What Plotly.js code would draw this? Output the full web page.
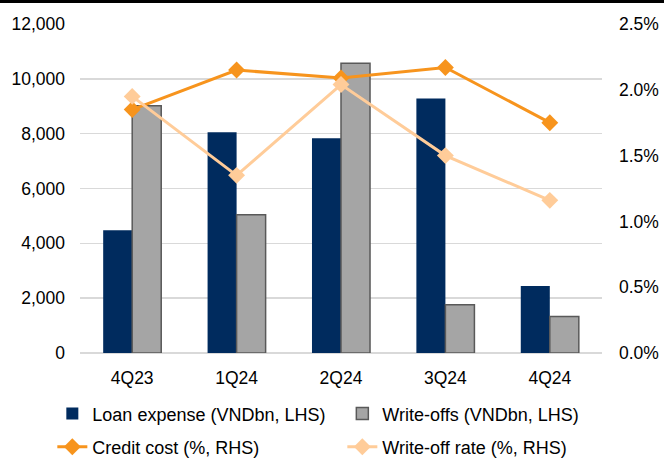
<!DOCTYPE html>
<html>
<head>
<meta charset="utf-8">
<script src="https://cdn.plot.ly/plotly-3.0.1.min.js"></script>
<style>
  html, body { margin: 0; padding: 0; background: #fff; }
  #chart { width: 664px; height: 465px; }
</style>
</head>
<body>
<div id="chart"></div>
<script>
const categories = ['4Q23', '1Q24', '2Q24', '3Q24', '4Q24'];
const loanExpense = [4480, 8050, 7830, 9280, 2440];
const writeOffs = [9020, 5040, 10570, 1760, 1330];
const creditCost = [0.0185, 0.0215, 0.0209, 0.0217, 0.0175];
const writeOffRate = [0.0195, 0.0135, 0.0204, 0.0150, 0.0116];

const FONT = 'Liberation Sans, Arial, sans-serif';
const FS = 17.5;
const LFS = 18;

const traces = [
  {
    type: 'bar', name: 'Loan expense (VNDbn, LHS)', x: categories, y: loanExpense,
    marker: { color: '#002B5E', line: { color: '#002B5E', width: 0 } },
    legend: 'legend', hoverinfo: 'skip'
  },
  {
    type: 'bar', name: 'Write-offs (VNDbn, LHS)', x: categories, y: writeOffs,
    marker: { color: '#A5A5A5', line: { color: '#595959', width: 1.5 } },
    legend: 'legend', hoverinfo: 'skip'
  },
  {
    type: 'scatter', mode: 'lines+markers', name: 'Credit cost (%, RHS)', x: categories, y: creditCost,
    yaxis: 'y2', line: { color: '#F7941D', width: 3 },
    marker: { symbol: 'diamond', size: 13, color: '#F7941D' },
    legend: 'legend2', hoverinfo: 'skip'
  },
  {
    type: 'scatter', mode: 'lines+markers', name: 'Write-off rate (%, RHS)', x: categories, y: writeOffRate,
    yaxis: 'y2', line: { color: '#FFCC99', width: 3 },
    marker: { symbol: 'diamond', size: 13, color: '#FFCC99' },
    legend: 'legend2', hoverinfo: 'skip'
  }
];

const layout = {
  width: 664, height: 465,
  margin: { l: 80, r: 62, t: 24, b: 112, pad: 0, autoexpand: false },
  paper_bgcolor: '#ffffff', plot_bgcolor: '#ffffff',
  font: { family: FONT, size: FS, color: '#000000' },
  barmode: 'group', bargap: 0.444, bargroupgap: 0,
  showlegend: true,
  xaxis: {
    type: 'category', showgrid: false, zeroline: false,
    showline: false, ticks: '', ticklabelstandoff: 12, automargin: false,
    tickfont: { family: FONT, size: FS, color: '#000' }
  },
  yaxis: {
    range: [0, 12000], dtick: 2000, tickformat: ',d', automargin: false,
    showgrid: true, gridcolor: '#D9D9D9', gridwidth: 1.5,
    zeroline: true, zerolinecolor: '#D9D9D9', zerolinewidth: 1.5,
    showline: false, ticks: '', ticklabelstandoff: 14,
    tickfont: { family: FONT, size: FS, color: '#000' }
  },
  yaxis2: {
    overlaying: 'y', side: 'right', range: [0, 0.025], dtick: 0.005, tickformat: '.1%',
    showgrid: false, zeroline: false, showline: false, ticks: '', ticklabelstandoff: 16,
    automargin: false,
    tickfont: { family: FONT, size: FS, color: '#000' }
  },
  legend: {
    orientation: 'h', x: -0.053, xanchor: 'left', y: -0.185, yanchor: 'middle',
    entrywidth: 245, font: { family: FONT, size: LFS, color: '#000' },
    bgcolor: 'rgba(0,0,0,0)', traceorder: 'normal'
  },
  legend2: {
    orientation: 'h', x: -0.053, xanchor: 'left', y: -0.286, yanchor: 'middle',
    entrywidth: 245, font: { family: FONT, size: LFS, color: '#000' },
    bgcolor: 'rgba(0,0,0,0)', traceorder: 'normal'
  },
  shapes: [
    {
      type: 'line', xref: 'paper', yref: 'paper',
      x0: -80 / 522, x1: 584 / 522, y0: (353 - 1.5) / 329, y1: (353 - 1.5) / 329,
      line: { color: '#000000', width: 3 }
    }
  ]
};

Plotly.newPlot('chart', traces, layout, { staticPlot: true, displayModeBar: false });
</script>
</body>
</html>
